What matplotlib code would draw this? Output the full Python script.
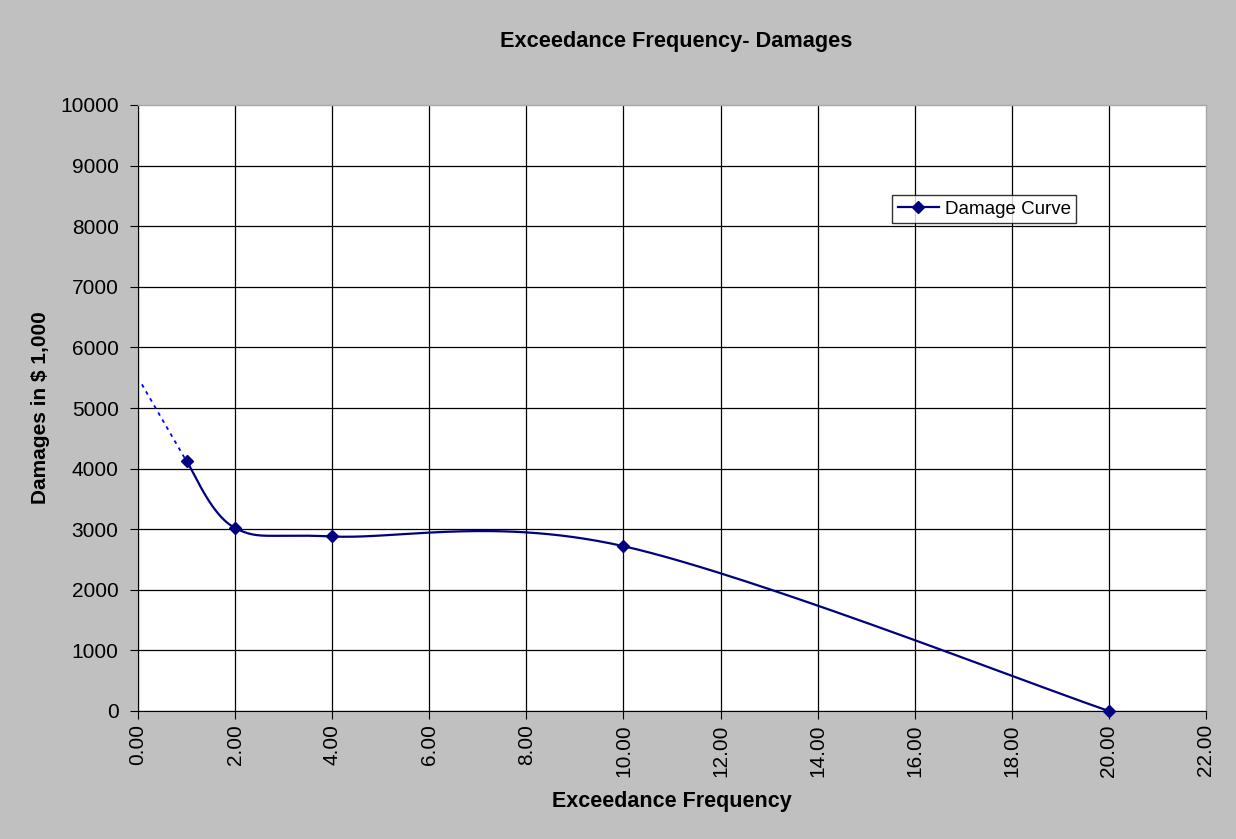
import numpy as np
import matplotlib
matplotlib.use("Agg")
import matplotlib.pyplot as plt
from matplotlib.lines import Line2D

plt.rcParams['font.family'] = ['Liberation Sans', 'DejaVu Sans']

freq = [1, 2, 4, 10, 20]
damages = [4120, 3020, 2880, 2720, 0]
trend_x = [0.08, 1]
trend_y = [5390, 4120]
x_ticks = [0, 2, 4, 6, 8, 10, 12, 14, 16, 18, 20, 22]
y_ticks = [0, 1000, 2000, 3000, 4000, 5000, 6000, 7000, 8000, 9000, 10000]

fig = plt.figure(figsize=(12.36, 8.39), dpi=100, facecolor='#C0C0C0')
ax = fig.add_axes([138/1236, 1 - 711/839, (1206-138)/1236, (711-105)/839])
ax.set_facecolor('white')
ax.set_xlim(0, 22)
ax.set_ylim(0, 10000)
ax.set_xticks(x_ticks)
ax.set_xticklabels([f"{v:.2f}" for v in x_ticks], rotation=90)
ax.set_yticks(y_ticks)
ax.grid(True, color='black', linewidth=0.9)
ax.set_axisbelow(True)
for s in ['top', 'right']:
    ax.spines[s].set_color('#A8A8A8')
    ax.spines[s].set_linewidth(1.0)
for s in ['left', 'bottom']:
    ax.spines[s].set_color('black')
ax.tick_params(direction='out', length=6, labelsize=15, colors='black')
ax.tick_params(axis='y', pad=8)

fig.canvas.draw()
# hide gridlines at the top and right edges (plot area border shows there)
ax.xaxis.get_gridlines()[-1].set_visible(False)
ax.yaxis.get_gridlines()[-1].set_visible(False)

# Excel-style smoothed curve (Bezier with 1/6 tension) computed in display space
pts = ax.transData.transform(np.column_stack([freq, damages]))
curve = []
n = len(pts)
for i in range(n - 1):
    p0 = pts[i - 1] if i > 0 else pts[i]
    p1 = pts[i]
    p2 = pts[i + 1]
    p3 = pts[i + 2] if i + 2 < n else pts[i + 1]
    c1 = p1 + (p2 - p0) / 6
    c2 = p2 - (p3 - p1) / 6
    t = np.linspace(0, 1, 60)[:, None]
    seg = ((1 - t) ** 3) * p1 + 3 * ((1 - t) ** 2) * t * c1 + 3 * (1 - t) * t ** 2 * c2 + t ** 3 * p2
    curve.append(seg if i == 0 else seg[1:])
curve = ax.transData.inverted().transform(np.vstack(curve))

ax.plot(curve[:, 0], curve[:, 1], color='#000080', linewidth=1.6, zorder=3)
ax.plot(freq, damages, linestyle='none', marker='D', color='#000080', markersize=6, zorder=4,
        clip_on=False)
ax.plot(trend_x, trend_y, color='#0000FF', linestyle=(0, (2, 2.5)), linewidth=1.3, zorder=3)

h = Line2D([], [], color='#000080', marker='D', markersize=6, linewidth=1.6)
leg = ax.legend([h], ['Damage Curve'], loc='lower left', bbox_to_anchor=(0.706, 0.805),
                frameon=True, fancybox=False, fontsize=13.5, borderpad=0.3, handlelength=2.2,
                handletextpad=0.3, borderaxespad=0)
leg.get_frame().set_edgecolor('black')
leg.get_frame().set_linewidth(1.0)

fig.text(676/1236, 1 - 41/839, 'Exceedance Frequency- Damages', ha='center', va='center',
         fontsize=15.7, fontweight='bold')
ax.set_xlabel('Exceedance Frequency', fontsize=15.5, fontweight='bold', labelpad=10)
ax.set_ylabel('Damages in $ 1,000', fontsize=15, fontweight='bold', labelpad=7)

fig.savefig('out.png', dpi=100, facecolor=fig.get_facecolor())
